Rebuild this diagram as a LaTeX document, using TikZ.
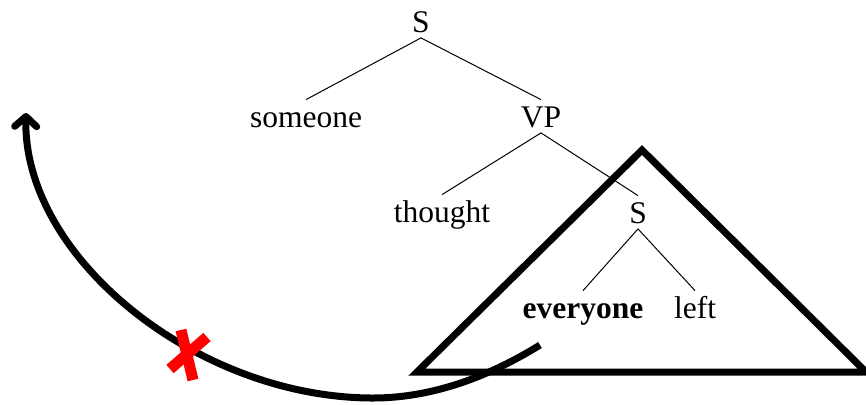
\documentclass[tikz,border=0pt]{standalone}
\usepackage{fontspec}
\setmainfont{Liberation Serif}
\usetikzlibrary{arrows.meta}
\begin{document}
\begin{tikzpicture}[x=0.5pt,y=-0.5pt,
  lbl/.style={anchor=base, font=\fontsize{15.75}{18}\selectfont, text height=10.75pt, text depth=0pt, inner xsep=0pt, inner ysep=2.75pt},
  edge/.style={line width=0.5pt},
  thickline/.style={line width=3.5pt},
  xline/.style={line width=5.5pt, red}]
\useasboundingbox (0,0) rectangle (866,404);
\node[lbl] (s1) at (421,32) {S};
\node[lbl] (someone) at (306,127) {someone};
\node[lbl] (vp) at (541,127) {VP};
\node[lbl] (thought) at (442,222) {thought};
\node[lbl] (s2) at (638,223) {S};
\node[lbl] (everyone) at (583,318) {\textbf{everyone}};
\node[lbl] (left) at (695,318) {left};
\draw[edge] (s1.south) -- (someone.north);
\draw[edge] (s1.south) -- (vp.north);
\draw[edge] (vp.south) -- (thought.north);
\draw[edge] (vp.south) -- (s2.north);
\draw[edge] (s2.south) -- (everyone.north);
\draw[edge] (s2.south) -- (left.north);
% triangle
\draw[thickline, line join=miter] (642,150) -- (417,372) -- (866,372) -- cycle;
% movement arc
\coordinate (arcstart) at (540,345);
\coordinate (arcbottom) at (373,398);
\coordinate (arcend) at (26,113);
\draw[thickline, -{Straight Barb[length=5pt,width=11pt,round]}] (arcstart) .. controls (490,376) and (433,398) .. (arcbottom) .. controls (197,398) and (23,257) .. (arcend);
% red cross
\coordinate (xa1) at (181,330);
\coordinate (xa2) at (193,380);
\coordinate (xb1) at (207,337);
\coordinate (xb2) at (170,369);
\draw[xline] (xa1) -- (xa2);
\draw[xline] (xb1) -- (xb2);
\end{tikzpicture}
\end{document}
